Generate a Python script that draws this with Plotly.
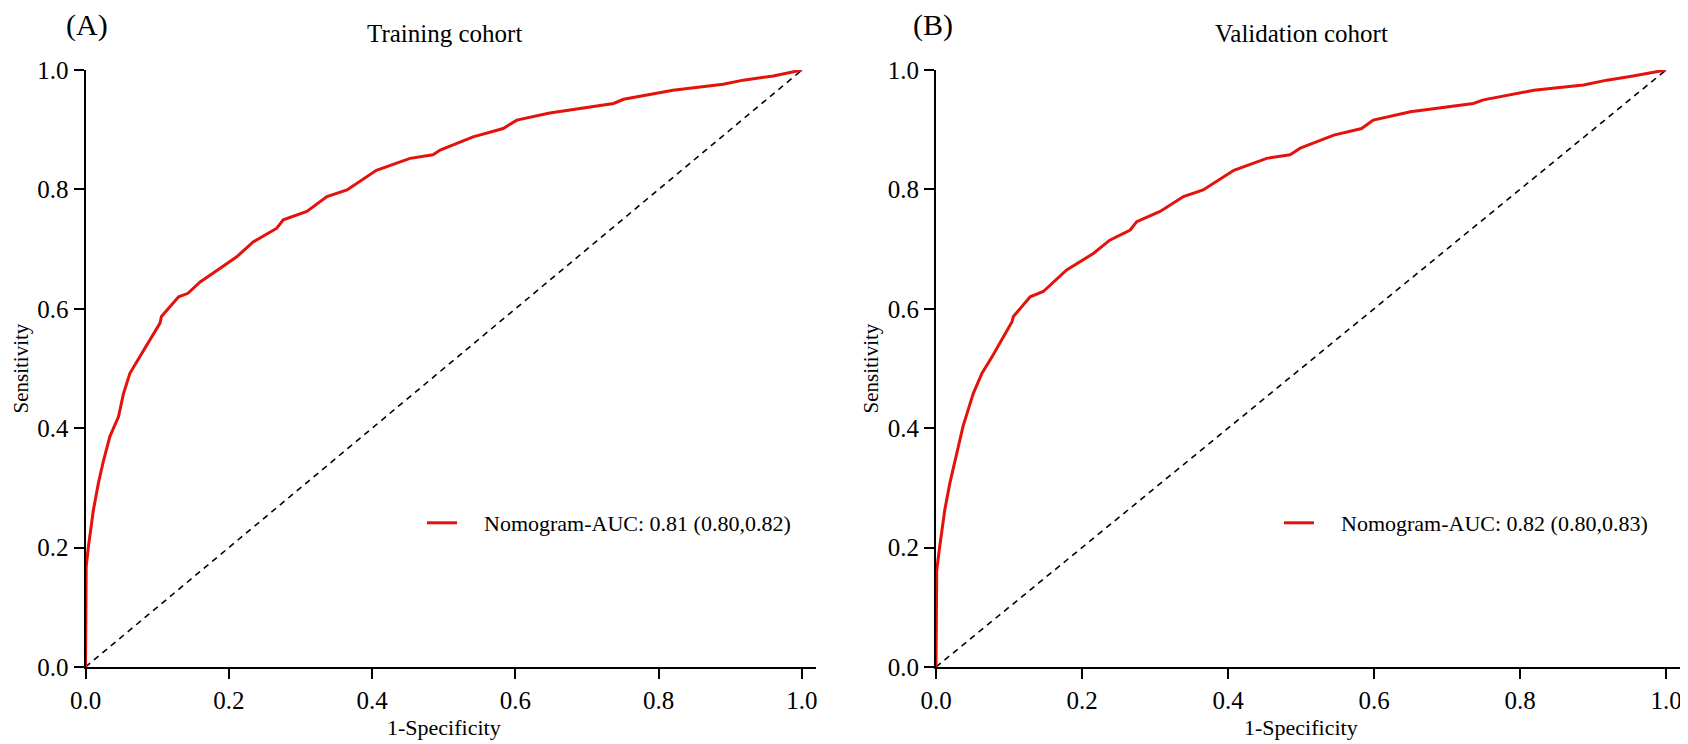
import plotly.graph_objects as go

# ROC points
train_fpr = [0.000, 0.001, 0.004, 0.011, 0.018, 0.025, 0.034, 0.046, 0.053, 0.062, 0.076, 0.090,
             0.104, 0.106, 0.118, 0.130, 0.143, 0.160, 0.188, 0.211, 0.234, 0.267, 0.276, 0.309,
             0.337, 0.365, 0.406, 0.453, 0.485, 0.495, 0.541, 0.583, 0.602, 0.648, 0.737, 0.751,
             0.820, 0.890, 0.918, 0.960, 1.000]
train_tpr = [0.000, 0.168, 0.201, 0.263, 0.308, 0.345, 0.386, 0.419, 0.458, 0.492, 0.520, 0.548,
             0.576, 0.587, 0.604, 0.620, 0.626, 0.645, 0.668, 0.687, 0.712, 0.735, 0.749, 0.763,
             0.788, 0.799, 0.832, 0.852, 0.858, 0.866, 0.888, 0.902, 0.916, 0.928, 0.944, 0.951,
             0.966, 0.976, 0.983, 0.990, 1.000]

valid_fpr = [0.000, 0.001, 0.005, 0.012, 0.019, 0.027, 0.037, 0.051, 0.063, 0.077, 0.093, 0.104,
             0.106, 0.129, 0.147, 0.179, 0.216, 0.238, 0.266, 0.275, 0.307, 0.339, 0.366, 0.408,
             0.453, 0.485, 0.499, 0.545, 0.583, 0.599, 0.650, 0.736, 0.750, 0.819, 0.887, 0.919,
             0.955, 1.000]
valid_tpr = [0.000, 0.162, 0.201, 0.263, 0.308, 0.350, 0.403, 0.458, 0.492, 0.520, 0.553, 0.578,
             0.587, 0.620, 0.629, 0.665, 0.693, 0.715, 0.732, 0.746, 0.763, 0.788, 0.799, 0.832,
             0.852, 0.858, 0.869, 0.891, 0.902, 0.916, 0.930, 0.944, 0.950, 0.966, 0.975, 0.983,
             0.990, 1.000]

ref_line = [0, 1]
tick_vals = [0, 0.2, 0.4, 0.6, 0.8, 1.0]
tick_text = ["0.0", "0.2", "0.4", "0.6", "0.8", "1.0"]

gap = "\u00a0" * 4
train_label = gap + "Nomogram-AUC: 0.81 (0.80,0.82)"
valid_label = gap + "Nomogram-AUC: 0.82 (0.80,0.83)"

FONT = "Times New Roman, Liberation Serif, serif"
# page body has an 8px margin, so the figure is shrunk by that and positions are
# given in page pixels, then shifted
OFF = 8
W, H = 1688 - OFF, 744 - OFF
RED = "#e3120b"


def px(x):
    return (x - OFF) / W


def py(y):
    return 1 - (y - OFF) / H


fig = go.Figure()

fig.add_trace(go.Scatter(x=ref_line, y=ref_line, mode="lines", showlegend=False,
                         line=dict(color="black", width=1.6, dash="6px,5px"),
                         xaxis="x", yaxis="y", cliponaxis=False))
fig.add_trace(go.Scatter(x=train_fpr, y=train_tpr, mode="lines", name=train_label,
                         line=dict(color=RED, width=3), xaxis="x", yaxis="y",
                         legend="legend", cliponaxis=False))

fig.add_trace(go.Scatter(x=ref_line, y=ref_line, mode="lines", showlegend=False,
                         line=dict(color="black", width=1.6, dash="6px,5px"),
                         xaxis="x2", yaxis="y2", cliponaxis=False))
fig.add_trace(go.Scatter(x=valid_fpr, y=valid_tpr, mode="lines", name=valid_label,
                         line=dict(color=RED, width=3), xaxis="x2", yaxis="y2",
                         legend="legend2", cliponaxis=False))

axis_style = dict(showgrid=False, zeroline=False, showline=True, linecolor="black", linewidth=2,
                  ticks="outside", ticklen=10, tickwidth=2, tickcolor="black",
                  tickvals=tick_vals, ticktext=tick_text, automargin=False,
                  tickfont=dict(family=FONT, size=25, color="black"))

ydom = [py(667), py(70)]
fig.update_layout(
    template="none",
    width=W, height=H,
    margin=dict(l=0, r=0, t=0, b=0, autoexpand=False),
    plot_bgcolor="white", paper_bgcolor="white",
    font=dict(family=FONT, color="black"),
    xaxis=dict(axis_style, domain=[px(85.5), px(816.3)], range=[0, 1.02], anchor="y"),
    yaxis=dict(axis_style, domain=ydom, range=[0, 1], anchor="x"),
    xaxis2=dict(axis_style, domain=[px(936), px(1680.6)], range=[0, 1.02], anchor="y2"),
    yaxis2=dict(axis_style, domain=ydom, range=[0, 1], anchor="x2"),
    legend=dict(x=px(422), y=py(523), xanchor="left", yanchor="middle",
                bgcolor="rgba(0,0,0,0)", font=dict(family=FONT, size=22, color="black"),
                itemwidth=30),
    legend2=dict(x=px(1279), y=py(523), xanchor="left", yanchor="middle",
                 bgcolor="rgba(0,0,0,0)", font=dict(family=FONT, size=22, color="black"),
                 itemwidth=30),
)

annots = [
    dict(text="(A)", x=px(87), y=py(25), size=30),
    dict(text="(B)", x=px(933), y=py(25), size=30),
    dict(text="Training cohort", x=px(444), y=py(34), size=25),
    dict(text="Validation cohort", x=px(1301), y=py(34), size=25),
    dict(text="1-Specificity", x=px(444), y=py(727), size=22),
    dict(text="1-Specificity", x=px(1301), y=py(727), size=22),
]
for a in annots:
    fig.add_annotation(text=a["text"], x=a["x"], y=a["y"], xref="paper", yref="paper",
                       xanchor="center", yanchor="middle", showarrow=False,
                       font=dict(family=FONT, size=a["size"], color="black"))
for xpos in [px(21), px(871)]:
    fig.add_annotation(text="Sensitivity", x=xpos, y=(ydom[0] + ydom[1]) / 2, xref="paper",
                       yref="paper", xanchor="center", yanchor="middle", showarrow=False,
                       textangle=-90, font=dict(family=FONT, size=21, color="black"))

fig.write_html("out.html")
